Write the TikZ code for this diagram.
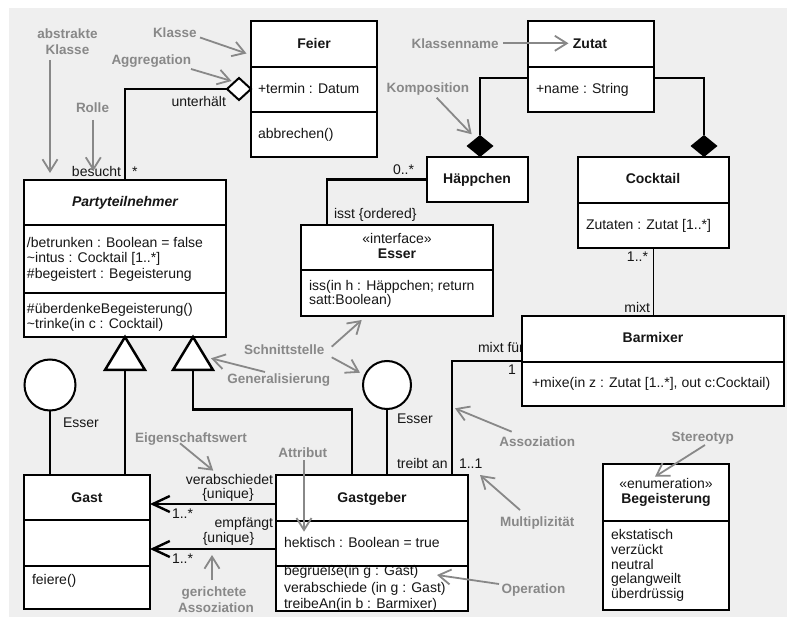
\documentclass[tikz,border=0pt]{standalone}
\usepackage{fontspec}
\setmainfont{Liberation Sans}
\usetikzlibrary{arrows.meta,shapes.geometric}
\definecolor{bgcol}{RGB}{239,239,239}
\definecolor{notecol}{RGB}{136,136,136}
\definecolor{inkcol}{RGB}{22,22,22}

\begin{document}
\begin{tikzpicture}[x=1pt, y=-1pt,
  every node/.style={inner sep=0pt, outer sep=0pt, text=inkcol,
    font=\fontsize{14}{16}\selectfont},
  cls/.style={draw=black, line width=2.5pt, fill=white, anchor=north west, rectangle},
  sep/.style={line width=2.5pt},
  link/.style={line width=2.4pt},
  thinlink/.style={line width=1.8pt},
  cname/.style={font=\fontsize{14}{16}\selectfont\bfseries, anchor=base},
  member/.style={anchor=base west},
  note/.style={font=\fontsize{13.5}{16}\selectfont\bfseries, text=notecol},
  notearrow/.style={draw=notecol, line width=1.8pt, -{Straight Barb[length=12pt,width=15pt]}},
  navarrow/.style={-{Straight Barb[length=17pt,width=16pt]}},
]
\useasboundingbox (0,0) rectangle (787,617);
\fill[bgcol] (9,8) rectangle (787,617);

% role label partly hidden behind the Barmixer box
\node[anchor=base west] (rMixtFuer) at (478,353) {mixt für};

% ---------- class boxes ----------
\node[cls, minimum width=126, minimum height=136] (feier) at (251,21) {};
\draw[sep] (251,67) -- (377,67) (251,112) -- (377,112);

\node[cls, minimum width=126, minimum height=91] (zutat) at (528,21) {};
\draw[sep] (528,67) -- (654,67);

\node[cls, minimum width=101, minimum height=45] (haeppchen) at (427,157) {};

\node[cls, minimum width=151, minimum height=91] (cocktail) at (578,157) {};
\draw[sep] (578,203) -- (729,203);

\node[cls, minimum width=192, minimum height=91] (esser) at (301,225) {};
\draw[sep] (301,270) -- (493,270);

\node[cls, minimum width=202, minimum height=157] (party) at (24,180) {};
\draw[sep] (24,225) -- (226,225) (24,293) -- (226,293);

\node[cls, minimum width=262, minimum height=90] (barmixer) at (522,316) {};
\draw[sep] (522,362) -- (784,362);

\node[cls, minimum width=126, minimum height=134] (gast) at (24,475) {};
\draw[sep] (24,520) -- (150,520) (24,566) -- (150,566);

\node[cls, minimum width=192, minimum height=136] (gastgeber) at (276,475) {};
\draw[sep] (276,521) -- (468,521);

\node[cls, minimum width=126, minimum height=146] (begeisterung) at (603,464) {};
\draw[sep] (603,521) -- (729,521);

% ---------- associations ----------
\node[diamond, draw=black, line width=2pt, fill=white, minimum width=24, minimum height=22] (aggd) at (239,89) {};
\draw[link] (aggd.west) -| (party.north);

\node[diamond, fill=black, minimum width=27, minimum height=22] (compd1) at (480,146) {};
\node[diamond, fill=black, minimum width=27, minimum height=22] (compd2) at (704,146) {};
\draw[thinlink] (zutat.west |- 0,78) -| (compd1.north);
\draw[thinlink] (zutat.east |- 0,78) -| (compd2.north);

\draw[link] (haeppchen.west) -| (esser.north -| 327,0);
\draw[thinlink] (cocktail.south) -- (barmixer.north -| cocktail.south);
\draw[link] (barmixer.west) -| (gastgeber.north -| 452,0);

\draw[link, navarrow] (gastgeber.west |- 0,504) -- (gast.east |- 0,504);
\draw[link, navarrow] (gastgeber.west |- 0,549) -- (gast.east |- 0,549);

% ---------- generalisations ----------
\coordinate (gen1) at (125,370);
\coordinate (gen2) at (193,370);
\coordinate (genbend) at (352,409.5);
\draw[link] (gen1) -- (gast.north -| gen1);
\draw[link] (gen2) |- (genbend) -- (gastgeber.north -| genbend);
\draw[sep, fill=white, line join=miter] (party.south) -- (105,370) -- (145,370) -- cycle;
\draw[sep, fill=white, line join=miter] (193,337) -- (173,370) -- (213,370) -- cycle;

% ---------- provided interfaces ----------
\node[circle, draw=black, line width=2pt, fill=white, minimum size=51] (gastlolli) at (50,385) {};
\node[circle, draw=black, line width=2pt, fill=white, minimum size=48] (gglolli) at (387,385) {};
\draw[link] (gastlolli.south) -- (gast.north -| gastlolli.south);
\draw[link] (gglolli.south) -- (gastgeber.north -| gglolli.south);

% ---------- class contents ----------
\node[cname] (tFeier) at (314,48.3) {Feier};
\node[member] (aTermin) at (258,93.3) {+termin : Datum};
\node[member] (oAbbrechen) at (258,139) {abbrechen()};

\node[cname] (tZutat) at (590,48.3) {Zutat};
\node[member] (aName) at (536,93.3) {+name : String};

\node[cname] (tHaeppchen) at (477,183.5) {Häppchen};

\node[cname] (tCocktail) at (653,183.5) {Cocktail};
\node[member] (aZutaten) at (586,230) {Zutaten : Zutat [1..*]};

\node[anchor=base] (sInterface) at (397,244) {«interface»};
\node[cname] (tEsser) at (397,258.3) {Esser};
\node[member] (oIss1) at (309,291) {iss(in h : Häppchen; return};
\node[member] (oIss2) at (309,304.5) {satt:Boolean)};

\node[cname, font=\fontsize{14}{16}\selectfont\bfseries\itshape] (tParty) at (125,207) {Partyteilnehmer};
\node[member] (aBetrunken) at (27,247.5) {/betrunken : Boolean = false};
\node[member] (aIntus) at (27,263) {\textasciitilde intus : Cocktail [1..*]};
\node[member] (aBegeistert) at (27,278.5) {\#begeistert : Begeisterung};
\node[member] (oUeberdenke) at (27,314) {\#überdenkeBegeisterung()};
\node[member] (oTrinke) at (27,329) {\textasciitilde trinke(in c : Cocktail)};

\node[cname] (tBarmixer) at (653,343) {Barmixer};
\node[member] (oMixe) at (532,388) {+mixe(in z : Zutat [1..*], out c:Cocktail)};

\node[cname] (tGast) at (87,502) {Gast};
\node[member] (oFeiere) at (32,584) {feiere()};

\node[cname] (tGastgeber) at (372,502) {Gastgeber};
\node[member] (aHektisch) at (284,547) {hektisch : Boolean = true};
\node[member] (oBegruesse) at (284,575.5) {begrueße(in g : Gast)};
\node[member] (oVerabschiede) at (284,592) {verabschiede (in g : Gast)};
\node[member] (oTreibeAn) at (284,608.5) {treibeAn(in b : Barmixer)};
\draw[sep] (276,566) -- (468,566);

\node[anchor=base] (sEnum) at (666,488.5) {«enumeration»};
\node[cname] (tBegeisterung) at (666,503) {Begeisterung};
\node[member] (lEkstatisch) at (611,539.5) {ekstatisch};
\node[member] (lVerzueckt) at (611,554.3) {verzückt};
\node[member] (lNeutral) at (611,569) {neutral};
\node[member] (lGelangweilt) at (611,583.8) {gelangweilt};
\node[member] (lUeberdruessig) at (611,598.5) {überdrüssig};

% ---------- roles and multiplicities ----------
\node[anchor=base east] (rUnterhaelt) at (226,106.5) {unterhält};
\node[anchor=base east] (rBesucht) at (121,177) {besucht};
\node[anchor=base west] (mBesucht) at (132,177) {*};
\node[anchor=base west] (mHaeppchen) at (393,175) {0..*};
\node[anchor=base west] (rIsst) at (334,219) {isst \{ordered\}};
\node[anchor=base east] (mCocktail) at (648,262) {1..*};
\node[anchor=base east] (rMixt) at (650,312.5) {mixt};
\node[anchor=base east] (mBarmixer) at (516,375) {1};
\node[anchor=base west] (rTreibtAn) at (397,468) {treibt an};
\node[anchor=base west] (mGastgeber) at (459,468) {1..1};
\node[anchor=base west] (lEsserGast) at (63,427.5) {Esser};
\node[anchor=base west] (lEsserGg) at (397,423) {Esser};
\node[anchor=base east] (rVerabschiedet) at (273,484) {verabschiedet};
\node[anchor=base] (pUnique1) at (228,498) {\{unique\}};
\node[anchor=base west] (mVerab) at (172,518) {1..*};
\node[anchor=base east] (rEmpfaengt) at (273,527.5) {empfängt};
\node[anchor=base] (pUnique2) at (228.5,542) {\{unique\}};
\node[anchor=base west] (mEmpf) at (172,563) {1..*};

% ---------- explanatory notes ----------
\node[note, anchor=base] (nAbstrakt) at (67.5,39) {abstrakte};
\node[note, anchor=base] (nAbstraktB) at (67.5,55) {Klasse};
\node[note, anchor=base west] (nKlasse) at (153,37.7) {Klasse};
\node[note, anchor=base west] (nAggregation) at (111.5,64.5) {Aggregation};
\node[note, anchor=base west] (nRolle) at (76,112.7) {Rolle};
\node[note, anchor=base west] (nKlassenname) at (411.7,48.3) {Klassenname};
\node[note, anchor=base west] (nKomposition) at (386.7,92.8) {Komposition};
\node[note, anchor=base west] (nSchnittstelle) at (244,354.3) {Schnittstelle};
\node[note, anchor=base west] (nGeneral) at (227.3,383.5) {Generalisierung};
\node[note, anchor=base west] (nEigenschaft) at (135,442.8) {Eigenschaftswert};
\node[note, anchor=base west] (nAttribut) at (278.3,457.5) {Attribut};
\node[note, anchor=base] (nGerichtet) at (214,596) {gerichtete};
\node[note, anchor=base] (nGerichtetB) at (216,612) {Assoziation};
\node[note, anchor=base west] (nOperation) at (501.7,593) {Operation};
\node[note, anchor=base west] (nAssoziation) at (499.3,446) {Assoziation};
\node[note, anchor=base west] (nMulti) at (500,526) {Multiplizität};
\node[note, anchor=base west] (nStereotyp) at (671.7,441) {Stereotyp};

\coordinate (aAbsS) at (50,60);      \coordinate (aAbsT) at (50,173);
\coordinate (aKlaS) at (200,37.5);   \coordinate (aKlaT) at (246.5,53.5);
\coordinate (aAggS) at (191,69);     \coordinate (aAggT) at (231.5,81);
\coordinate (aRolS) at (93.3,120);   \coordinate (aRolT) at (93.3,171);
\coordinate (aKnS) at (503,43.3);    \coordinate (aKnT) at (568.5,43.3);
\coordinate (aKomS) at (436.7,97.7); \coordinate (aKomT) at (471.7,134.3);
\coordinate (aSchS1) at (331.7,346.7); \coordinate (aSchT1) at (361.7,320);
\coordinate (aSchS2) at (331.7,357.3); \coordinate (aSchT2) at (360,372.7);
\coordinate (aGenS) at (265,372);    \coordinate (aGenT) at (211,358.3);
\coordinate (aEigS) at (180,443.3);  \coordinate (aEigT) at (213.3,470.7);
\coordinate (aAttS) at (304,460);    \coordinate (aAttT) at (304,531.7);
\coordinate (aGerS) at (212,580);    \coordinate (aGerT) at (212,555);
\coordinate (aOpS) at (499,584);     \coordinate (aOpT) at (437,575);
\coordinate (aAssS) at (511.7,431.7); \coordinate (aAssT) at (455,408.3);
\coordinate (aMulS) at (520,510);    \coordinate (aMulT) at (480,475);
\coordinate (aSteS) at (705,445);    \coordinate (aSteT) at (655,476.7);

\foreach \s/\t in {aAbsS/aAbsT, aKlaS/aKlaT, aAggS/aAggT, aRolS/aRolT,
  aKnS/aKnT, aKomS/aKomT, aSchS1/aSchT1, aSchS2/aSchT2, aGenS/aGenT,
  aEigS/aEigT, aAttS/aAttT, aGerS/aGerT, aOpS/aOpT, aAssS/aAssT,
  aMulS/aMulT, aSteS/aSteT}
  \draw[notearrow] (\s) -- (\t);
\end{tikzpicture}
\end{document}
